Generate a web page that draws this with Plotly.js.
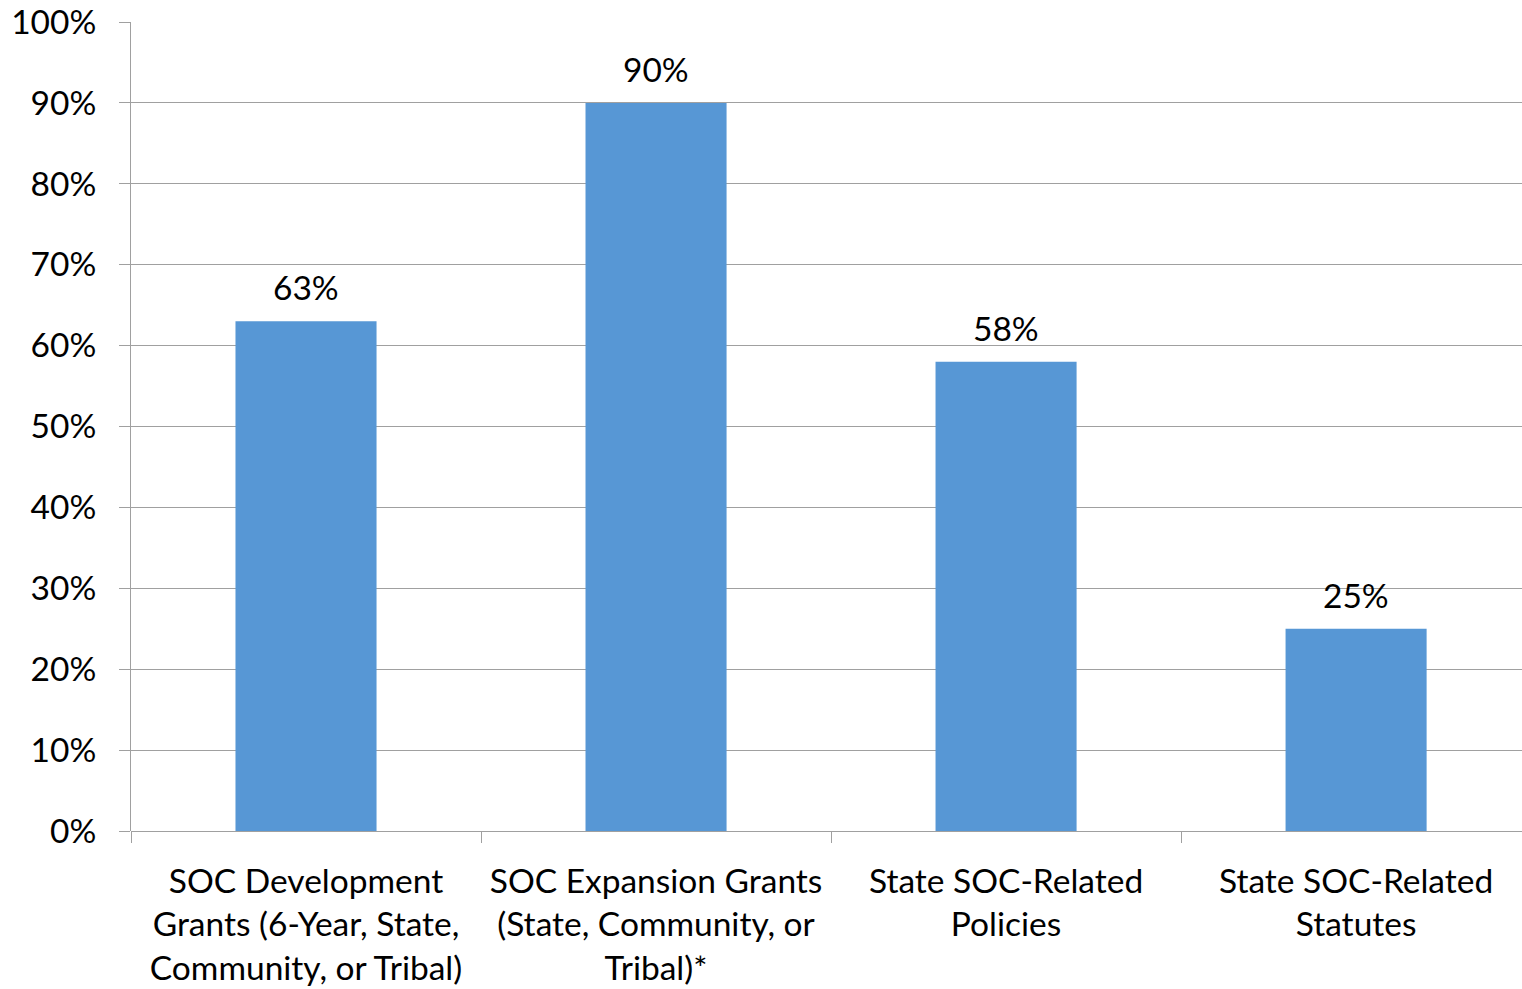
<!DOCTYPE html>
<html>
<head>
<meta charset="utf-8">
<script src="https://cdn.plot.ly/plotly-3.0.1.min.js"></script>
<style>html,body{margin:0;padding:0;background:#fff;}#chart{width:1522px;height:989px;}</style>
</head>
<body>
<div id="chart"></div>
<script>
const categories = [
  "SOC Development<br>Grants (6-Year, State,<br>Community, or Tribal)",
  "SOC Expansion Grants<br>(State, Community, or<br>Tribal)*",
  "State SOC-Related<br>Policies",
  "State SOC-Related<br>Statutes"
];
const values = [63, 90, 58, 25];
const valueLabels = ["63%", "90%", "58%", "25%"];
const yTickVals = [0, 10, 20, 30, 40, 50, 60, 70, 80, 90, 100];
const yTickText = ["0%", "10%", "20%", "30%", "40%", "50%", "60%", "70%", "80%", "90%", "100%"];

const FONT = "Lato, 'Open Sans', sans-serif";
const FS = 33.5;

const trace = {
  type: "bar",
  x: categories,
  y: values,
  marker: {color: "#5797D5", line: {width: 0}},
  width: 0.403,
  hoverinfo: "skip"
};

const annotations = categories.map((c, i) => ({
  x: c, y: values[i], xref: "x", yref: "y",
  text: valueLabels[i],
  showarrow: false,
  yanchor: "bottom",
  yshift: 12,
  font: {family: FONT, size: FS, color: "#000"}
}));

const layout = {
  width: 1522, height: 989,
  margin: {l: 131, r: 0, t: 22, b: 158},
  paper_bgcolor: "#fff",
  plot_bgcolor: "#fff",
  showlegend: false,
  font: {family: FONT, size: FS, color: "#000"},
  annotations: annotations,
  xaxis: {
    type: "category",
    range: [-0.5, 3.474],
    tickson: "boundaries",
    ticks: "outside",
    ticklen: 11,
    tickcolor: "#a0a0a0",
    tickwidth: 1,
    showline: false,
    showgrid: false,
    zeroline: false,
    tickfont: {family: FONT, size: FS, color: "#000"},
    ticklabelstandoff: 27,
    fixedrange: true
  },
  yaxis: {
    range: [0, 100],
    tickvals: yTickVals,
    ticktext: yTickText,
    ticks: "outside",
    ticklen: 11,
    tickcolor: "#a0a0a0",
    tickwidth: 1,
    showline: true,
    linecolor: "#a0a0a0",
    linewidth: 1,
    showgrid: true,
    gridcolor: "#a0a0a0",
    gridwidth: 1,
    zeroline: true,
    zerolinecolor: "#a0a0a0",
    zerolinewidth: 1,
    tickfont: {family: FONT, size: FS, color: "#000"},
    ticklabelstandoff: 16,
    fixedrange: true
  }
};

Plotly.newPlot("chart", [trace], layout, {displayModeBar: false, staticPlot: true});
</script>
</body>
</html>
